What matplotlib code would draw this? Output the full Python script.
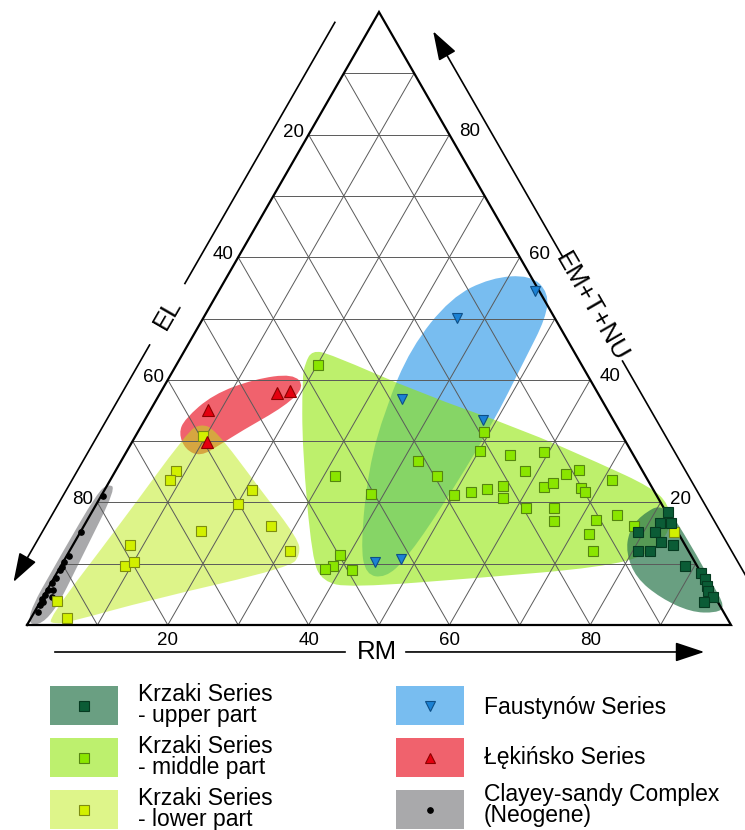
import numpy as np
import matplotlib
matplotlib.use("Agg")
import matplotlib.pyplot as plt
from matplotlib.path import Path
from matplotlib.patches import PathPatch, Rectangle

plt.rcParams['font.family'] = ['Liberation Sans', 'DejaVu Sans']

SQ3 = np.sqrt(3) / 2

# ── samples, given as RM and EM+T+NU (EL = 100 - RM - T) ──────────────────
upper_rm = [81.8, 81.55, 83.15, 79.25, 81.65, 83.25, 85.2, 80.8, 82.5,
            88.65, 91.45, 92.5, 93.4, 93.9, 95.1, 94.3]
upper_t = [18.4, 16.7, 16.7, 15.1, 15.1, 13.5, 13.1, 12.0, 12.0,
           9.7, 8.5, 7.55, 6.4, 5.6, 4.6, 3.8]

middle_rm = [20.2, 31.65, 38.15, 42.2, 46.15, 49.15, 50.1, 50.1, 52.15, 54.2,
             56.25, 57.25, 54.7, 58.25, 61.3, 59.3, 62.25, 63.2, 64.2, 65.75,
             67.55, 68.35, 65.3, 66.35, 72.25, 72.35, 74.4, 71.3, 74.85, 78.15,
             38.75, 38.65, 37.8, 41.75]
middle_t = [42.4, 24.3, 21.3, 26.8, 24.3, 31.5, 28.4, 21.2, 21.7, 22.2,
            22.7, 20.7, 27.75, 25.1, 19.05, 28.2, 22.5, 23.15, 24.6, 25.3,
            22.3, 21.7, 19.05, 16.9, 17.1, 14.9, 12.0, 23.6, 17.9, 16.1,
            11.5, 9.7, 9.2, 8.9]

lower_rm = [9.6, 8.65, 8.5, 20.9, 20.15, 17.05, 26.65, 31.3, 8.15, 9.05,
            10.1, 2.3, 5.1, 84.35]
lower_t = [30.9, 25.1, 23.6, 22.0, 19.7, 15.4, 16.1, 12.0, 13.0, 9.7,
           10.2, 3.9, 1.15, 15.1]

faust_rm = [44.9, 36.1, 34.8, 48.0, 44.35, 47.7]
faust_t = [54.5, 50.1, 36.8, 33.5, 10.3, 10.8]

lek_rm = [8.2, 10.65, 16.6, 18.35]
lek_t = [35.1, 29.9, 37.9, 38.1]

clay_rm = [0.3, 0.15, 0.4, 0.2, 0.25, 0.25, 0.25, 0.1, 0.8, 0.1, 0.1, 1.25,
           0.0, 0.2, 0.5, 0.4]
clay_t = [21.0, 15.1, 11.2, 10.2, 9.5, 8.9, 7.7, 6.9, 5.75, 5.75, 4.9, 4.6,
          4.3, 3.3, 2.1, 3.8]

# ── field outlines (RM, T) ──────────────────────────────────────────────────
upper_zone_rm = [80.5, 87.75, 94.1, 97.7, 96.9, 93.25, 87.8, 82.65, 79.2, 77.85, 78.25]
upper_zone_t = [20.0, 13.1, 6.6, 2.95, 1.97, 2.1, 4.4, 7.7, 11.8, 15.3, 17.9]

middle_zone_rm = [18.15, 18.1, 21.0, 37.0, 54.1, 68.35, 77.35, 81.35, 83.7, 82.85,
                  76.8, 60.55, 42.85, 38.45, 35.15, 24.75, 19.0]
middle_zone_t = [42.7, 44.8, 44.2, 37.8, 32.0, 26.3, 22.5, 19.7, 15.6, 11.5,
                 9.4, 7.7, 6.1, 7.1, 10.7, 28.7, 40.2]

lower_zone_rm = [2.45, 5.0, 7.05, 8.2, 10.7, 22.0, 31.55, 33.05, 32.7, 15.45, 5.85, 3.9]
lower_zone_t = [0.8, 16.4, 31.5, 32.8, 32.0, 22.2, 14.0, 11.5, 9.4, 4.1, 0.5, 0.16]

faust_zone_rm = [43.0, 47.0, 48.65, 49.05, 49.75, 49.3, 48.45, 47.05, 44.0,
                 40.85, 35.75, 33.25, 31.9, 33.5, 37.55]
faust_zone_t = [57.1, 54.2, 50.1, 43.5, 32.3, 18.9, 10.7, 7.7, 8.2,
                13.1, 25.5, 35.3, 45.2, 53.4, 56.65]

lek_zone_rm = [5.6, 7.6, 12.2, 17.3, 20.0, 18.9, 14.6, 12.7, 10.9, 8.2, 5.9]
lek_zone_t = [33.6, 37.6, 40.1, 41.0, 38.9, 35.8, 31.6, 29.4, 27.5, 28.6, 31.3]

clay_zone_rm = [-0.8, -0.9, -0.8, 0.0, 1.5, 2.2, 3.0]
clay_zone_t = [0.0, 12.0, 21.5, 23.0, 22.3, 12.0, 0.2]

ticks = [20, 40, 60, 80]


def tern(rm, t):
    rm = np.asarray(rm, float)
    t = np.asarray(t, float)
    return rm + t / 2, t * SQ3


def smooth_zone(rm, t, **kw):
    """Closed quadratic B-spline through the outline midpoints."""
    x, y = tern(rm, t)
    pts = np.column_stack([x, y])
    mids = (pts + np.roll(pts, -1, axis=0)) / 2
    verts, codes = [mids[-1]], [Path.MOVETO]
    for p, m in zip(pts, mids):
        verts += [p, m]
        codes += [Path.CURVE3, Path.CURVE3]
    verts.append(mids[-1])
    codes.append(Path.CLOSEPOLY)
    return PathPatch(Path(verts, codes), lw=0, **kw)


fig = plt.figure(figsize=(7.45, 8.30), dpi=100)
ax = fig.add_axes([0, 0, 1, 1])
ax.set_xlim(-27 / 7.04, 718 / 7.04)
ax.set_ylim(-205 / 7.078, 625 / 7.078)
ax.axis('off')

# ── fields ──────────────────────────────────────────────────────────────────
ax.add_patch(smooth_zone(clay_zone_rm, clay_zone_t, fc='#a9a9ab', zorder=1))
ax.add_patch(smooth_zone(lek_zone_rm, lek_zone_t, fc='#f0626d', zorder=1))
ax.add_patch(smooth_zone(lower_zone_rm, lower_zone_t, fc='#bdeb15', alpha=0.5, zorder=1.2))
ax.add_patch(smooth_zone(faust_zone_rm, faust_zone_t, fc='#78bdf0', zorder=1.3))
ax.add_patch(smooth_zone(middle_zone_rm, middle_zone_t, fc='#91e60a', alpha=0.6, zorder=1.4))
ax.add_patch(smooth_zone(upper_zone_rm, upper_zone_t, fc='#2a764c', alpha=0.7, zorder=1.5))

# ── grid ────────────────────────────────────────────────────────────────────
gkw = dict(color='#5a5a5a', lw=0.7, zorder=3)
for v in range(10, 100, 10):
    ax.plot(*tern([0, 100 - v], [v, v]), **gkw)
    ax.plot(*tern([v, v], [0, 100 - v]), **gkw)
    ax.plot(*tern([100 - v, 0], [0, 100 - v]), **gkw)
ax.plot(*tern([0, 100, 0, 0], [0, 0, 100, 0]), color='black', lw=1.6,
        zorder=4, solid_joinstyle='miter')

# ── samples ─────────────────────────────────────────────────────────────────
ax.plot(*tern(clay_rm, clay_t), 'o', ms=3.8, color='black', zorder=5)
ax.plot(*tern(lower_rm, lower_t), 's', ms=6.5, mfc='#d2f000', mec='#7d8c10', mew=0.8, zorder=5)
ax.plot(*tern(middle_rm, middle_t), 's', ms=6.5, mfc='#8ae600', mec='#558510', mew=0.8, zorder=5)
ax.plot(*tern(upper_rm, upper_t), 's', ms=6.5, mfc='#0b5c36', mec='#053a20', mew=0.8, zorder=5)
ax.plot(*tern(faust_rm, faust_t), 'v', ms=7.5, mfc='#1c82d4', mec='#0d4f88', mew=0.8, zorder=5)
ax.plot(*tern(lek_rm, lek_t), '^', ms=8, mfc='#e4000f', mec='#8c0000', mew=0.8, zorder=5)

# ── tick labels ─────────────────────────────────────────────────────────────
tfs = 13.5
for v in ticks:
    ax.text(v, -2.12, str(v), ha='center', va='center', fontsize=tfs)
    x, y = tern(0, 100 - v)
    ax.text(x - 0.6, y + 0.35, str(v), ha='right', va='center', fontsize=tfs)
    x, y = tern(100 - v, v)
    ax.text(x + 1.35, y + 0.45, str(v), ha='left', va='center', fontsize=tfs)

# ── axis arrows and titles ──────────────────────────────────────────────────
akw = dict(arrowstyle='-|>,head_length=0.9,head_width=0.3', color='black',
           lw=1.2, shrinkA=0, shrinkB=0, mutation_scale=20)


def side(p0, d, n, off, s):
    return (p0[0] + s * d[0] + off * n[0], p0[1] + s * d[1] + off * n[1])


def axis_line(p0, d, n, off, s0, s1, arrow):
    a, b = side(p0, d, n, off, s0), side(p0, d, n, off, s1)
    if arrow:
        ax.annotate('', xy=b, xytext=a, arrowprops=akw, zorder=4)
    else:
        ax.plot([a[0], b[0]], [a[1], b[1]], color='black', lw=1.2)


title_fs = 18.5

left = ((0, 0), (0.5, SQ3), (-SQ3, 0.5), 4.7)
axis_line(*left, 95.6, 53.0, False)
axis_line(*left, 43.0, 4.3, True)
ax.text(*side(*left, 48.0), 'EL', rotation=60, ha='center', va='center',
        fontsize=title_fs, rotation_mode='anchor')

right = ((100, 0), (-0.5, SQ3), (SQ3, 0.5), 5.3)
axis_line(*right, 2.0, 40.0, False)
axis_line(*right, 57.0, 93.8, True)
ax.text(*side(*right, 48.8), 'EM+T+NU', rotation=-60, ha='center', va='center',
        fontsize=title_fs, rotation_mode='anchor')

bottom = ((0, -3.81), (1, 0), (0, 1), 0)
axis_line(*bottom, 3.98, 45.2, False)
axis_line(*bottom, 53.8, 96.2, True)
ax.text(*side(*bottom, 49.7), 'RM', ha='center', va='center', fontsize=title_fs)

# ── legend (pixel coordinates) ──────────────────────────────────────────────
lax = fig.add_axes([0, 0, 1, 1])
lax.set_xlim(0, 745)
lax.set_ylim(830, 0)
lax.axis('off')
lax.patch.set_alpha(0)

leg_labels = ['Krzaki Series\n- upper part', 'Krzaki Series\n- middle part',
              'Krzaki Series\n- lower part', 'Faustynów Series',
              'Łękińsko Series', 'Clayey-sandy Complex\n(Neogene)']
leg_fill = ['#6a9f82', '#bdf06e', '#def58a', '#78bdf0', '#f0626d', '#a9a9ab']
leg_marker = ['s', 's', 's', 'v', '^', 'o']
leg_mfc = ['#0b5c36', '#8ae600', '#d2f000', '#1c82d4', '#e4000f', 'black']
leg_mec = ['#053a20', '#558510', '#7d8c10', '#0d4f88', '#8c0000', 'black']
leg_ms = [7, 6.5, 6.5, 7, 7, 4]
# last-line baseline relative to the top of each swatch, and line spacing
leg_base = [35.5, 35.5, 35.5, 27.5, 26, 32.0]
leg_ls = [0.85, 0.85, 0.85, 1.0, 1.0, 0.9]

for i, lab in enumerate(leg_labels):
    col, row = divmod(i, 3)
    x0 = 50 if col == 0 else 396
    y0 = 686 + 52 * row
    lax.add_patch(Rectangle((x0, y0), 68, 39, fc=leg_fill[i], lw=0))
    lax.plot([x0 + 34], [y0 + 19.5], leg_marker[i], ms=leg_ms[i],
             mfc=leg_mfc[i], mec=leg_mec[i], mew=0.8)
    lax.text(x0 + 88, y0 + leg_base[i], lab, ha='left', va='baseline',
             fontsize=16.5, linespacing=leg_ls[i])

fig.savefig('out.png', dpi=100)
